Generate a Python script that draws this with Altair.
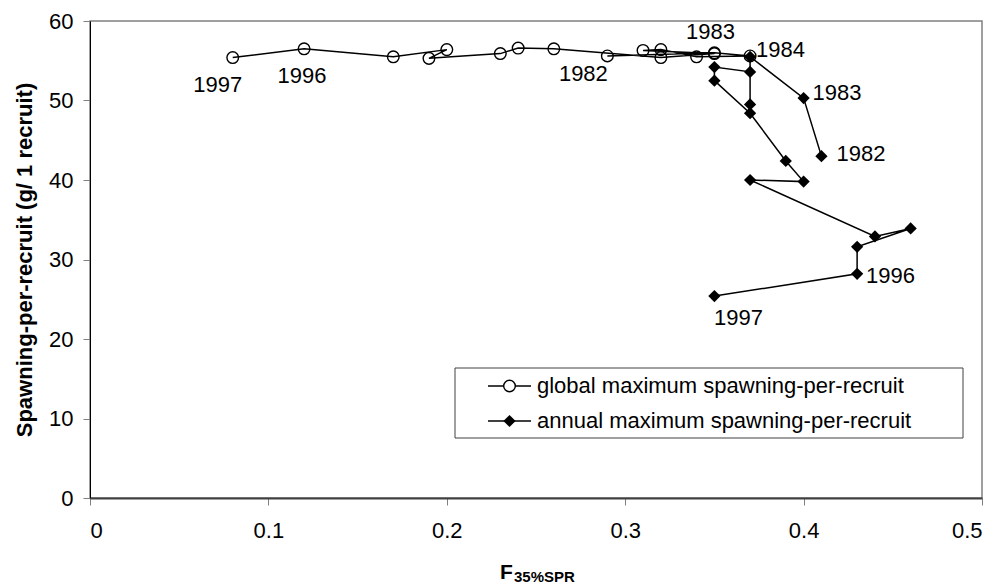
import altair as alt
import pandas as pd

years = list(range(1982, 1998))
global_f = [0.29, 0.35, 0.37, 0.34, 0.32, 0.31, 0.35, 0.32, 0.26, 0.24, 0.23, 0.19, 0.20, 0.17, 0.12, 0.08]
global_spr = [55.6, 56.0, 55.6, 55.5, 56.4, 56.3, 55.9, 55.4, 56.5, 56.6, 55.9, 55.3, 56.4, 55.5, 56.5, 55.4]
annual_f = [0.41, 0.40, 0.37, 0.37, 0.37, 0.35, 0.35, 0.37, 0.39, 0.40, 0.37, 0.44, 0.46, 0.43, 0.43, 0.35]
annual_spr = [43.0, 50.3, 55.5, 49.5, 53.6, 54.2, 52.5, 48.4, 42.4, 39.8, 40.0, 32.9, 33.9, 31.6, 28.2, 25.4]
x_ticks = [0, 0.1, 0.2, 0.3, 0.4, 0.5]
y_ticks = [0, 10, 20, 30, 40, 50, 60]
legend_labels = ["global maximum spawning-per-recruit", "annual maximum spawning-per-recruit"]
y_title = "Spawning-per-recruit (g/ 1 recruit)"

FONT = "Liberation Sans"
W, H = 892, 477
TOP = 13

g = pd.DataFrame({"year": years, "f": global_f, "spr": global_spr})
a = pd.DataFrame({"year": years, "f": annual_f, "spr": annual_spr})

xenc = alt.X("f:Q", scale=alt.Scale(domain=[0, 0.5], nice=False),
             axis=alt.Axis(values=x_ticks, format="~g", title=None, grid=False,
                           domainColor="#404040", domainWidth=2, tickColor="#808080",
                           tickSize=7, labelPadding=15, labelFontSize=22, labelFont=FONT,
                           labelColor="black"))
yenc = alt.Y("spr:Q", scale=alt.Scale(domain=[0, 60], nice=False),
             axis=alt.Axis(values=y_ticks, title=y_title, grid=False,
                           domainColor="black", domainWidth=1, tickColor="#808080",
                           tickSize=7, labelPadding=10, labelFontSize=22, labelFont=FONT,
                           labelColor="black", titleFont=FONT, titleFontSize=22,
                           titleFontWeight="bold", titleColor="black", titlePadding=12))

gline = alt.Chart(g).mark_line(color="black", strokeWidth=1.5).encode(x=xenc, y=yenc, order="year:O")
gpts = alt.Chart(g).mark_point(shape="circle", size=135, filled=False, color="black",
                               strokeWidth=1.4, opacity=1).encode(x="f:Q", y="spr:Q")
aline = alt.Chart(a).mark_line(color="black", strokeWidth=1.5).encode(x="f:Q", y="spr:Q", order="year:O")
apts = alt.Chart(a).mark_point(shape="diamond", size=150, filled=True, color="black",
                               opacity=1).encode(x="f:Q", y="spr:Q")


def lab(df, yr, dx, dy, align="center"):
    return alt.Chart(df).transform_filter(alt.datum.year == yr).mark_text(
        font=FONT, fontSize=22, color="black", dx=dx, dy=dy, align=align, baseline="middle"
    ).encode(x="f:Q", y="spr:Q", text=alt.Text("year:Q", format="d"))


labels = [
    lab(g, 1997, -15, 27), lab(g, 1996, -2, 27), lab(g, 1982, -24, 18), lab(g, 1983, -4, -21),
    lab(a, 1984, 6, -7, "left"), lab(a, 1983, 9, -5, "left"), lab(a, 1982, 15, -2, "left"),
    lab(a, 1996, 9, 2, "left"), lab(a, 1997, 24, 22),
]

one = pd.DataFrame({"k": [0]})
box = alt.Chart(one).mark_rect(fill="white", stroke="#404040", strokeWidth=1).encode(
    x=alt.value(365), x2=alt.value(873), y=alt.value(347), y2=alt.value(417))
leg = [box]
for i, (lbl, shape, filled) in enumerate(zip(legend_labels, ["circle", "diamond"], [False, True])):
    yy = 365 + 35 * i
    leg.append(alt.Chart(one).mark_rule(color="black", strokeWidth=1.5).encode(
        x=alt.value(398), x2=alt.value(441), y=alt.value(yy)))
    leg.append(alt.Chart(one).mark_point(shape=shape, size=135 if not filled else 150, filled=filled,
                                         color="black", strokeWidth=1.4, opacity=1,
                                         fill="white" if not filled else "black").encode(
        x=alt.value(419.5), y=alt.value(yy)))
    leg.append(alt.Chart(one).mark_text(font=FONT, fontSize=22, align="left", baseline="middle",
                                        color="black").encode(
        x=alt.value(447), y=alt.value(yy), text=alt.value(lbl)))

xt1 = alt.Chart(one).mark_text(font=FONT, fontSize=21, fontWeight="bold", align="left",
                               baseline="alphabetic", color="black").encode(
    x=alt.value(410), y=alt.value(558), text=alt.value("F"))
xt2 = alt.Chart(one).mark_text(font=FONT, fontSize=15, fontWeight="bold", align="left",
                               baseline="alphabetic", color="black").encode(
    x=alt.value(424), y=alt.value(561), text=alt.value("35%SPR"))

chart = alt.layer(gline, aline, gpts, apts, *labels, *leg, xt1, xt2).properties(
    width=W, height=H,
    autosize=alt.AutoSizeParams(type="none"),
    padding={"left": 82, "top": TOP, "right": 11, "bottom": 90},
    background="white",
).configure_view(stroke="#808080", strokeWidth=1.5)

chart.save("out.html", embed_options={"renderer": "svg", "actions": False})
